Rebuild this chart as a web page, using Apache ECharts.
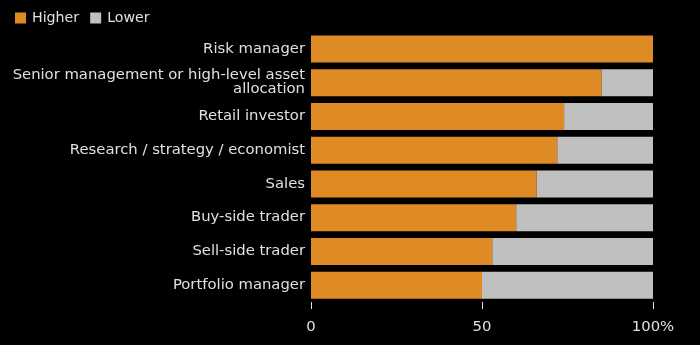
<!DOCTYPE html>
<html><head><meta charset="utf-8">
<script src="https://cdn.jsdelivr.net/npm/echarts@6/dist/echarts.min.js"></script>
<style>html,body{margin:0;padding:0;background:#000;}#c{width:700px;height:345px;}</style>
</head><body><div id="c"></div>
<script>
const categories = ["Risk manager","Senior management or high-level asset\nallocation","Retail investor","Research / strategy / economist","Sales","Buy-side trader","Sell-side trader","Portfolio manager"];
const higher = [100,85,74,72,66,60,53,50];
const lower = [0,15,26,28,34,40,47,50];
const xTicks = {0:"0",50:"50",100:"100%"};

const chart = echarts.init(document.getElementById('c'));
const font = "DejaVu Sans";
chart.setOption({
  backgroundColor:'#000',
  animation:false,
  legend:{left:10,top:6,itemWidth:11,itemHeight:11,itemGap:11,icon:'rect',
    textStyle:{color:'#e0e0e0',fontSize:14.2,fontFamily:font,padding:[0,0,0,1]},
    data:['Higher','Lower']},
  grid:{left:311,right:47,top:32,bottom:43},
  xAxis:{type:'value',min:0,max:100,interval:50,
    axisLine:{show:false},splitLine:{show:false},
    axisTick:{show:true,length:7,lineStyle:{color:'#e0e0e0'}},
    axisLabel:{color:'#e0e0e0',fontSize:14.8,fontFamily:font,margin:18,formatter:v=>xTicks[v]}},
  yAxis:{type:'category',inverse:true,data:categories,
    axisLine:{show:false},axisTick:{show:false},
    axisLabel:{color:'#e0e0e0',fontSize:14.8,fontFamily:font,margin:6,lineHeight:14,align:'right'}},
  series:[
    {name:'Higher',type:'bar',stack:'a',data:higher,barCategoryGap:'20%',
      itemStyle:{color:'#de8a25'}},
    {name:'Lower',type:'bar',stack:'a',data:lower,
      itemStyle:{color:'#c0c0c0'}}
  ]
});
</script></body></html>
